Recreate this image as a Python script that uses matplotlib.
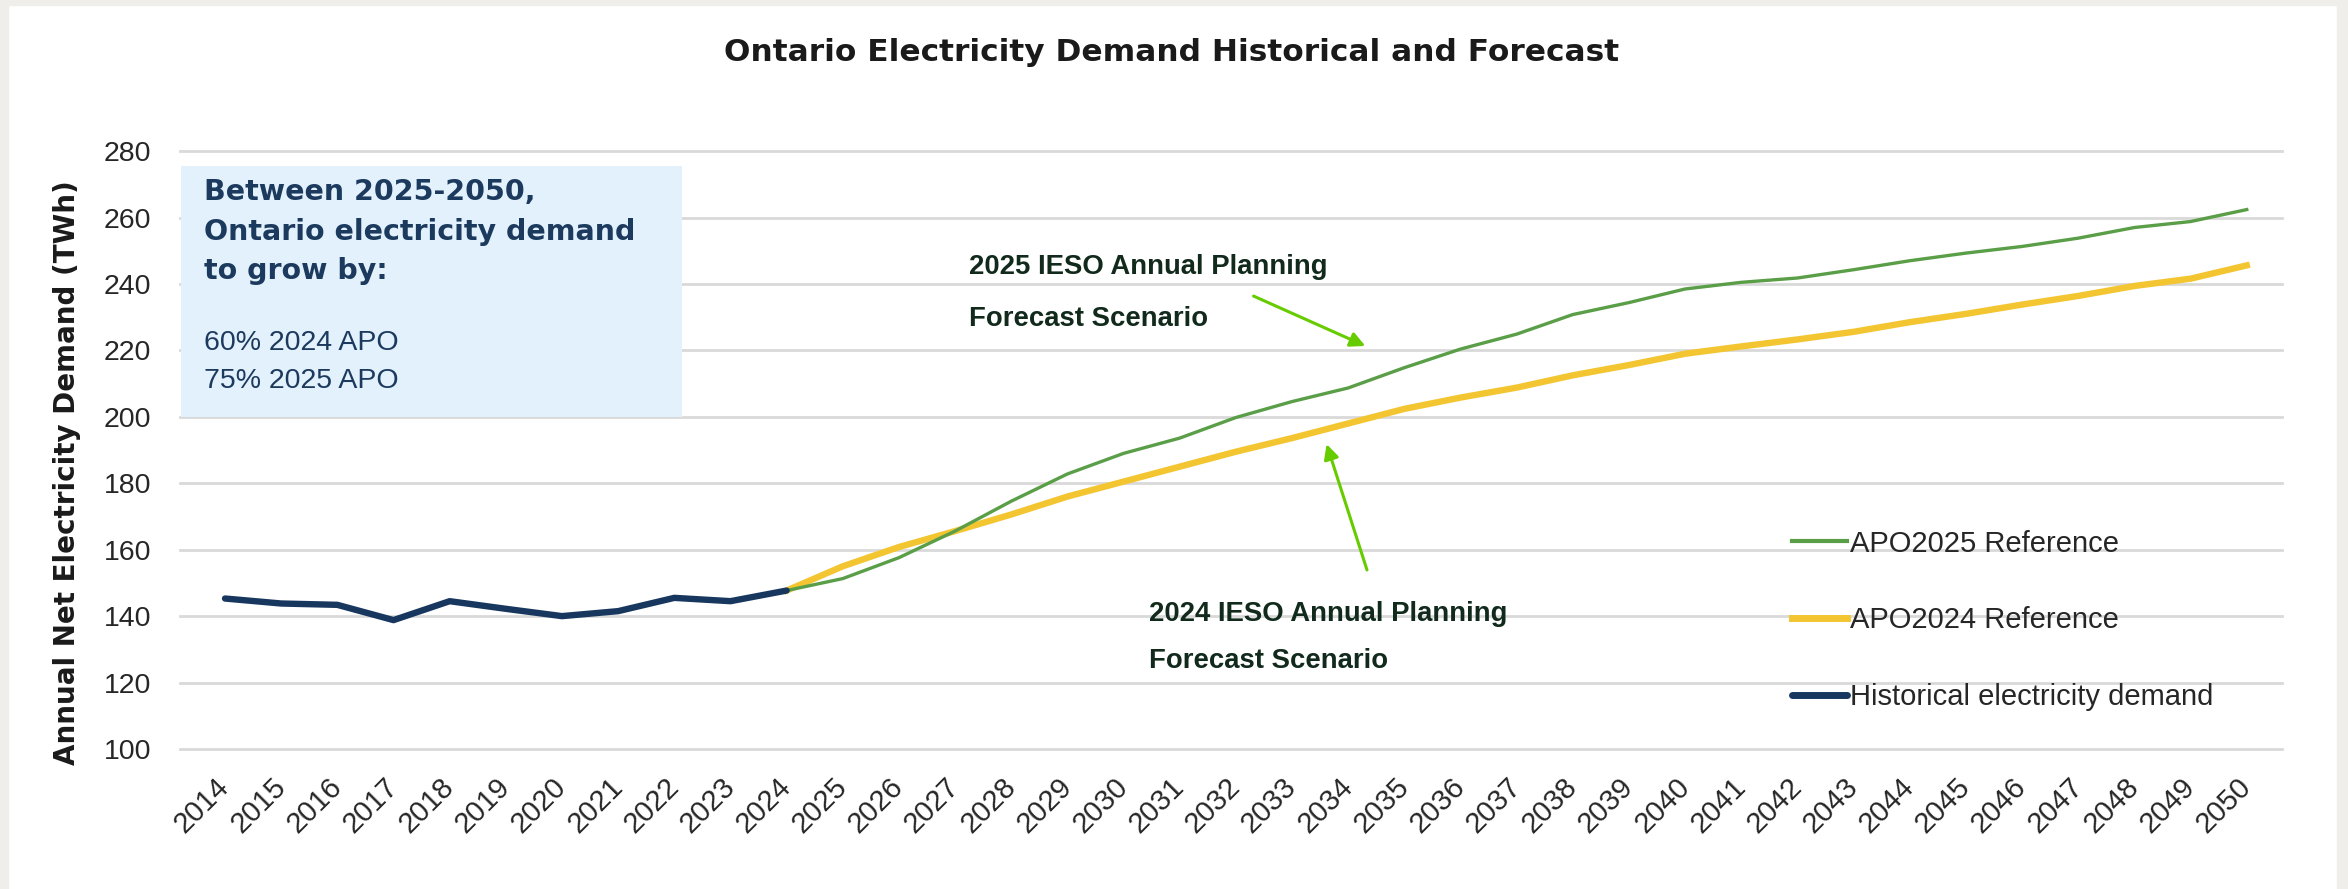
import matplotlib
matplotlib.use("Agg")
import matplotlib.pyplot as plt
from matplotlib.patches import Rectangle

# ======================
# 1. Data
# ======================
hist_years = list(range(2014, 2025))
hist_twh = [145.3, 143.8, 143.4, 138.8, 144.5, 142.2, 140.0, 141.5, 145.5, 144.5, 147.7]

fc_years = list(range(2024, 2051))
apo2025 = [147.7, 151.3, 157.6, 165.6, 174.6, 182.8, 189.0, 193.6, 199.8, 204.6, 208.7,
           214.8, 220.4, 224.9, 230.8, 234.4, 238.5, 240.5, 241.8, 244.3, 247.0,
           249.3, 251.3, 253.8, 257.0, 258.8, 262.4]
apo2024 = [147.7, 155.0, 160.8, 165.6, 170.6, 176.0, 180.5, 185.0, 189.5, 193.6, 198.0,
           202.4, 205.8, 208.8, 212.5, 215.6, 219.0, 221.2, 223.3, 225.6, 228.5,
           231.0, 233.8, 236.4, 239.4, 241.6, 245.6]

x_tick_years = list(range(2014, 2051))
y_ticks = [100, 120, 140, 160, 180, 200, 220, 240, 260, 280]

legend_labels = ["APO2025 Reference", "APO2024 Reference", "Historical electricity demand"]
box_lines = ["Between 2025-2050,", "Ontario electricity demand", "to grow by:"]
box_notes = ["60% 2024 APO", "75% 2025 APO"]

# colours
GREEN = "#5a9e48"
YELLOW = "#f3c531"
NAVY = "#17375e"
ARROW = "#66cc00"
GRID = "#d9d9d9"
TXT = "#262626"
SANS = ["Liberation Sans", "DejaVu Sans"]

# ======================
# 2. Figure + axes
# ======================
fig = plt.figure(figsize=(23.48, 8.89), dpi=100)
fig.patch.set_facecolor("white")
# light grey frame strips round the edge (left, right, top)
for rect in [(0, 0, 0.0034, 1), (0.9953, 0, 0.0047, 1), (0, 0.9944, 1, 0.0056)]:
    fig.patches.append(Rectangle(rect[:2], rect[2], rect[3], transform=fig.transFigure,
                                 color="#efeeea", zorder=0))

ax = fig.add_axes([0.0767, 0.1575, 0.895, 0.6725])
ax.set_xlim(2013.2, 2050.62)
ax.set_ylim(100, 280)

for s in ax.spines.values():
    s.set_visible(False)
ax.set_yticks(y_ticks)
ax.grid(axis="y", color=GRID, linewidth=2, zorder=0)
ax.set_axisbelow(True)
for gl in ax.get_ygridlines():
    gl.set_clip_on(False)

# ======================
# 3. Lines
# ======================
l25, = ax.plot(fc_years, apo2025, color=GREEN, linewidth=2.4, zorder=3)
l24, = ax.plot(fc_years, apo2024, color=YELLOW, linewidth=4.6, zorder=2)
lh, = ax.plot(hist_years, hist_twh, color=NAVY, linewidth=4.6, zorder=4, solid_capstyle="round")

# ======================
# 4. Ticks, labels, title
# ======================
ax.set_xticks(x_tick_years)
ax.set_xticklabels([str(y) for y in x_tick_years], rotation=45, ha="right",
                   rotation_mode="anchor", va="center", family=SANS, fontsize=21, color=TXT)
ax.set_yticklabels([str(v) for v in y_ticks], family=SANS, fontsize=20.5, color=TXT)
ax.tick_params(axis="x", length=0, pad=24)
ax.tick_params(axis="y", length=0, pad=21)

ax.set_ylabel("Annual Net Electricity Demand (TWh)", fontsize=20, fontweight="bold",
              color="#1a1a1a")
ax.yaxis.set_label_coords(-0.047, 0.463)

fig.text(0.499, 0.941, "Ontario Electricity Demand Historical and Forecast",
         ha="center", va="center", fontsize=22.5, fontweight="bold", color="#1a1a1a")

# ======================
# 5. Info box
# ======================
box = Rectangle((2013.22, 200), 8.92, 75.5, facecolor="#e2f1fb", edgecolor="none",
                zorder=1, clip_on=False)
ax.add_patch(box)
for txt, yv in zip(box_lines, [267.8, 255.6, 243.9]):
    ax.text(2013.62, yv, txt, fontsize=20.5, fontweight="bold", color="#1c3a5e",
            va="center", ha="left", zorder=5)
for txt, yv in zip(box_notes, [222.2, 210.9]):
    ax.text(2013.62, yv, txt, fontsize=20.5, color="#1c3a5e", family=SANS,
            va="center", ha="left", zorder=5)

# ======================
# 6. Annotations with arrows
# ======================
ann_kw = dict(fontsize=19.8, fontweight="bold", color="#112a1c", ha="left", va="center",
              family=SANS)
ax.text(2027.25, 245.2, "2025 IESO Annual Planning", **ann_kw)
ax.text(2027.25, 229.4, "Forecast Scenario", **ann_kw)
ax.text(2030.45, 140.5, "2024 IESO Annual Planning", **ann_kw)
ax.text(2030.45, 126.5, "Forecast Scenario", **ann_kw)

arrow_kw = dict(arrowstyle="-|>", color=ARROW, lw=2.2, mutation_scale=22)
ax.annotate("", xy=(2034.35, 221.0), xytext=(2032.27, 236.7), arrowprops=arrow_kw)
ax.annotate("", xy=(2033.6, 192.6), xytext=(2034.35, 153.1), arrowprops=arrow_kw)

# ======================
# 7. Legend
# ======================
leg = ax.legend([l25, l24, lh], legend_labels, loc="upper left",
                bbox_to_anchor=(0.767, 0.367), frameon=False,
                prop={"family": SANS, "size": 21}, labelspacing=1.67,
                handlelength=1.9, handletextpad=0.1, borderpad=0, borderaxespad=0)
for t in leg.get_texts():
    t.set_color(TXT)
leg.get_lines()[0].set_linewidth(3)
leg.get_lines()[1].set_linewidth(5)
leg.get_lines()[2].set_linewidth(5)

fig.savefig("out.png", dpi=100)
